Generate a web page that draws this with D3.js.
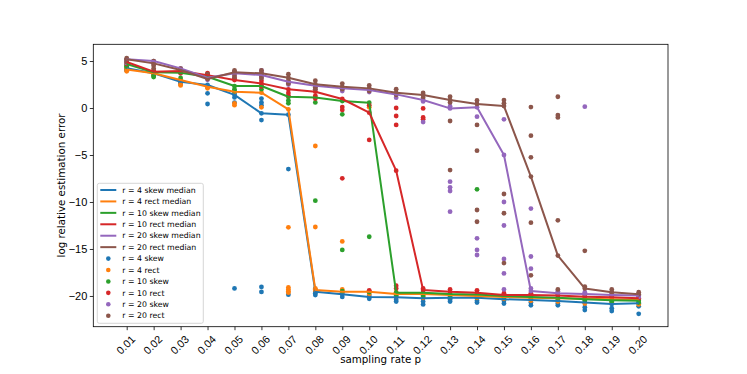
<!DOCTYPE html>
<html>
<head>
<meta charset="utf-8">
<script src="https://cdn.jsdelivr.net/npm/d3@7"></script>
<style>
  body { margin: 0; background: #fff; }
  svg { font-family: "DejaVu Sans", sans-serif; }
</style>
</head>
<body>
<svg></svg>
<script>
// sampling rates (categories)
var pLabels = ["0.01","0.02","0.03","0.04","0.05","0.06","0.07","0.08","0.09","0.10",
               "0.11","0.12","0.13","0.14","0.15","0.16","0.17","0.18","0.19","0.20"];

var seriesNames = ["r = 4 skew", "r = 4 rect", "r = 10 skew", "r = 10 rect", "r = 20 skew", "r = 20 rect"];
var seriesColors = ["#1f77b4", "#ff7f0e", "#2ca02c", "#d62728", "#9467bd", "#8c564b"];

// medians (one per sampling rate)
var r4skewMedian  = [4.22, 3.69, 2.8, 2.45, 1.4, -0.57, -0.71, -19.54, -19.82, -20.1,
                     -20.14, -20.25, -20.2, -20.2, -20.35, -20.43, -20.53, -20.7, -20.85, -20.78];
var r4rectMedian  = [4.1, 3.7, 2.98, 2.27, 1.74, 1.63, -0.14, -19.36, -19.54, -19.54,
                     -19.79, -19.79, -19.9, -20.0, -20.1, -20.2, -20.25, -20.3, -20.35, -20.4];
var r10skewMedian = [4.68, 3.8, 3.76, 3.33, 2.34, 2.34, 1.2, 1.13, 0.74, 0.57,
                     -19.65, -19.65, -19.8, -19.85, -20.0, -20.1, -20.2, -20.35, -20.45, -20.5];
var r10rectMedian = [4.9, 3.87, 3.94, 3.5, 2.98, 2.62, 1.99, 1.74, 0.96, -0.5,
                     -6.67, -19.36, -19.54, -19.65, -19.9, -19.9, -19.96, -20.07, -20.14, -20.25];
var r20skewMedian = [5.18, 5.0, 4.22, 3.22, 3.69, 3.51, 2.8, 2.37, 2.09, 1.91,
                     1.45, 0.85, -0.04, 0.07, -5.0, -19.47, -19.72, -19.8, -19.9, -19.95];
var r20rectMedian = [5.2, 4.75, 4.04, 3.09, 3.8, 3.69, 3.22, 2.52, 2.27, 2.09,
                     1.63, 1.38, 0.85, 0.43, 0.21, -7.3, -15.7, -19.2, -19.6, -19.82];

// individual runs (one list per sampling rate)
var r4skewRuns = [
  [4.2, 4.0, 4.4, 4.3, 4.1], [3.7, 3.5, 3.8, 3.6], [2.8, 2.7, 2.9, 2.6], [2.45, 2.3, 1.56, 0.43],
  [1.4, 1.6, 1.13, 0.57, -19.2], [-0.57, 1.0, 0.6, 0.3, -1.28, -19.04, -19.57], [-0.71, -6.5, -19.86],
  [-19.54, -19.3, -19.7, -19.9], [-19.82, -19.6, -20.1], [-20.1, -19.9, -20.3], [-20.1, -20.4, -20.6],
  [-20.25, -20.6, -20.9], [-20.25, -20.4, -20.6], [-20.25, -20.5, -20.7], [-20.35, -20.5, -20.8],
  [-20.43, -20.7, -21.0], [-20.53, -20.8, -21.0], [-20.7, -21.2, -21.5], [-20.85, -21.3, -21.6],
  [-20.78, -21.1, -21.9]
];
var r4rectRuns = [
  [4.1, 4.3, 3.9], [3.7, 3.5], [2.98, 2.5, 2.4], [2.27, 2.1], [1.74, 0.5, 0.3], [1.63, 0.07],
  [-0.14, -12.7, -19.1, -19.3, -19.5, -19.65], [-19.36, -4.04, -12.66, -19.2], [-19.54, -14.2, -19.3],
  [-19.54, -19.8, 0.07], [-19.79, -19.6, -20.0], [-19.79, -20.0, -20.2], [-19.9, -20.1], [-20.0, -20.2],
  [-20.1, -20.3], [-20.2, -20.5], [-20.25, -20.6], [-20.3, -20.8], [-20.35, -20.7], [-20.4, -20.9]
];
var r10skewRuns = [
  [4.68, 4.5, 4.4], [3.8, 3.4, 3.3], [3.76, 3.2], [3.33, 3.6], [2.34, 2.0, 1.8], [2.34, 2.0],
  [1.2, 0.8, 0.5], [1.13, 0.6, -9.86], [0.74, -0.67, -15.1, -19.5], [0.57, -13.7, -19.6],
  [-19.65, -19.9], [-19.65, -20.0], [-19.8, -20.1], [-19.85, -8.65, -20.1], [-20.0, -20.2],
  [-20.1, -20.3], [-20.2, -20.4], [-20.35, -20.5], [-20.45, -20.6], [-20.5, -20.7]
];
var r10rectRuns = [
  [4.9, 4.7], [3.87, 4.0], [3.94, 3.7], [3.5, 3.7, 3.2], [2.98, 3.2], [2.62, 2.9, 2.3],
  [1.99, 1.6, 1.3], [1.74, 1.3, 1.0], [0.96, 0.1, -0.2, -7.48], [-0.5, 0.3, -3.4, -19.4],
  [-6.67, 0.0, -0.85, -1.8, -19.2, -18.9], [-19.36, -0.04, -1.0, -1.2, -19.2], [-19.54, -19.3],
  [-19.65, -19.4], [-19.9, -19.7], [-19.9, -19.7], [-19.96, -19.8], [-20.07, -19.9], [-20.14, -20.0],
  [-20.25, -20.1]
];
var r20skewRuns = [
  [5.18, 5.0, 4.8], [5.0, 4.7], [4.22, 4.0], [3.22, 3.0], [3.69, 3.9, 3.4], [3.51, 3.8, 3.2, 4.0],
  [2.8, 2.5], [2.37, 2.0], [2.09, 1.8], [1.91, 1.7], [1.45, 1.1], [0.85, 0.7, -1.5],
  [-0.04, 0.2, -7.84, -8.44, -8.83, -11.03], [0.07, -0.92, -13.87, -15.1, -15.64],
  [-5.0, -1.2, -10.0, -12.5, -16.06, -17.6, -19.3], [-19.47, -10.7, -15.8, -17.1, -19.2],
  [-19.72, -19.5], [-19.8, 0.14, -19.6], [-19.9, -19.7], [-19.95, -20.1]
];
var r20rectRuns = [
  [5.18, 5.3, 5.0, 4.9], [4.75, 5.0, 4.5, 4.2], [4.04, 4.2, 3.8], [3.09, 3.3, 3.6],
  [3.8, 4.0, 3.5, 3.2], [3.69, 4.0, 3.4, 3.2], [3.22, 3.6, 2.9, 2.6], [2.52, 2.9, 2.2, 2.0],
  [2.27, 2.6, 2.0], [2.09, 2.4, 1.8], [1.63, 2.0, 1.4], [1.38, 1.6, 1.1],
  [0.85, 1.2, 0.6, -1.38, -6.6], [0.43, 0.8, -1.8, -4.54, -10.85, -12.1],
  [0.21, 0.85, 0.5, -9.15, -11.2, -16.5], [-7.3, 0.1, -2.94, -5.25, -12.2, -17.8],
  [-15.7, 1.2, -0.75, -1.0, -11.95, -19.3], [-19.2, -15.2, -19.0], [-19.6, -19.3], [-19.82, -19.6]
];

var yTicks = [-20, -15, -10, -5, 0, 5];

var medians = [r4skewMedian, r4rectMedian, r10skewMedian, r10rectMedian, r20skewMedian, r20rectMedian];
var runs = [r4skewRuns, r4rectRuns, r10skewRuns, r10rectRuns, r20skewRuns, r20rectRuns];

var svg = d3.select("svg")
            .attr("width", 747)
            .attr("height", 374);

var margin = {top: 44.3, right: 79, bottom: 47.3, left: 93.3},
    width = svg.attr("width") - margin.left - margin.right,
    height = svg.attr("height") - margin.top - margin.bottom,
    g = svg.append("g").attr("transform", "translate(" + margin.left + "," + margin.top + ")");

//scales
var x = d3.scalePoint().domain(pLabels).range([33.4, 545.4]);
var y = d3.scaleLinear().domain([-23.27, 6.78]).range([height, 0]);

//scatter of runs (drawn below the median lines)
runs.forEach(function(s, i) {
    var pts = [];
    s.forEach(function(vals, j) {
        vals.forEach(function(v) { pts.push({p: pLabels[j], v: v}); });
    });
    g.append("g").selectAll("circle")
        .data(pts)
        .enter()
        .append("circle")
        .attr("cx", function(d) { return x(d.p); })
        .attr("cy", function(d) { return y(d.v); })
        .attr("r", 2.4)
        .style("fill", seriesColors[i]);
});

//median lines
var line = d3.line()
    .x(function(d, j) { return x(pLabels[j]); })
    .y(function(d) { return y(d); });

medians.forEach(function(m, i) {
    g.append("path")
        .datum(m)
        .attr("d", line)
        .style("fill", "none")
        .style("stroke", seriesColors[i])
        .style("stroke-width", 2)
        .style("stroke-linejoin", "round");
});

//axes
var xAxis = g.append("g")
    .attr("transform", "translate(0," + height + ")")
    .call(d3.axisBottom(x).tickSizeOuter(0).tickSize(3.5));
xAxis.select(".domain").remove();
xAxis.selectAll("text")
    .attr("y", 0).attr("dy", null)
    .style("font-size", "10.8px")
    .style("text-anchor", "middle")
    .attr("dominant-baseline", "central")
    .attr("transform", "translate(-1.5,18) rotate(-45)");

var yAxis = g.append("g")
    .call(d3.axisLeft(y).tickValues(yTicks).tickSize(3.5).tickSizeOuter(0)
        .tickFormat(function(d) { return String(d).replace("-", "\u2212"); }));
yAxis.select(".domain").remove();
yAxis.selectAll("text").style("font-size", "11px").attr("x", -6);
svg.selectAll(".tick line").style("stroke", "#000").style("stroke-width", 0.8);

//frame
g.append("rect")
    .attr("width", width).attr("height", height)
    .style("fill", "none").style("stroke", "#000").style("stroke-width", 0.8);

//axis titles
svg.append("text")
    .attr("x", margin.left + width / 2)
    .attr("y", 363)
    .style("text-anchor", "middle")
    .style("font-size", "10.3px")
    .text("sampling rate p");

svg.append("text")
    .attr("transform", "translate(65," + (margin.top + height / 2) + ") rotate(-90)")
    .style("text-anchor", "middle")
    .style("font-size", "10.3px")
    .text("log relative estimation error");

//legend
var legend = svg.append("g").attr("transform", "translate(97.3,183.3)");
legend.append("rect")
    .attr("width", 106).attr("height", 140)
    .attr("rx", 2).attr("ry", 2)
    .style("fill", "#fff").style("fill-opacity", 0.8)
    .style("stroke", "#cccccc").style("stroke-width", 0.8);

var rowH = 11.43;
seriesNames.forEach(function(name, i) {
    var yy = 6.7 + i * rowH;
    legend.append("line")
        .attr("x1", 3).attr("x2", 19).attr("y1", yy).attr("y2", yy)
        .style("stroke", seriesColors[i]).style("stroke-width", 2);
    legend.append("text")
        .attr("x", 25).attr("y", yy).attr("dy", "0.35em")
        .style("font-size", "7.8px")
        .text(name + " median");
});
seriesNames.forEach(function(name, i) {
    var yy = 6.7 + (i + 6) * rowH;
    legend.append("circle")
        .attr("cx", 11).attr("cy", yy).attr("r", 2.3)
        .style("fill", seriesColors[i]);
    legend.append("text")
        .attr("x", 25).attr("y", yy).attr("dy", "0.35em")
        .style("font-size", "7.8px")
        .text(name);
});
</script>
</body>
</html>
